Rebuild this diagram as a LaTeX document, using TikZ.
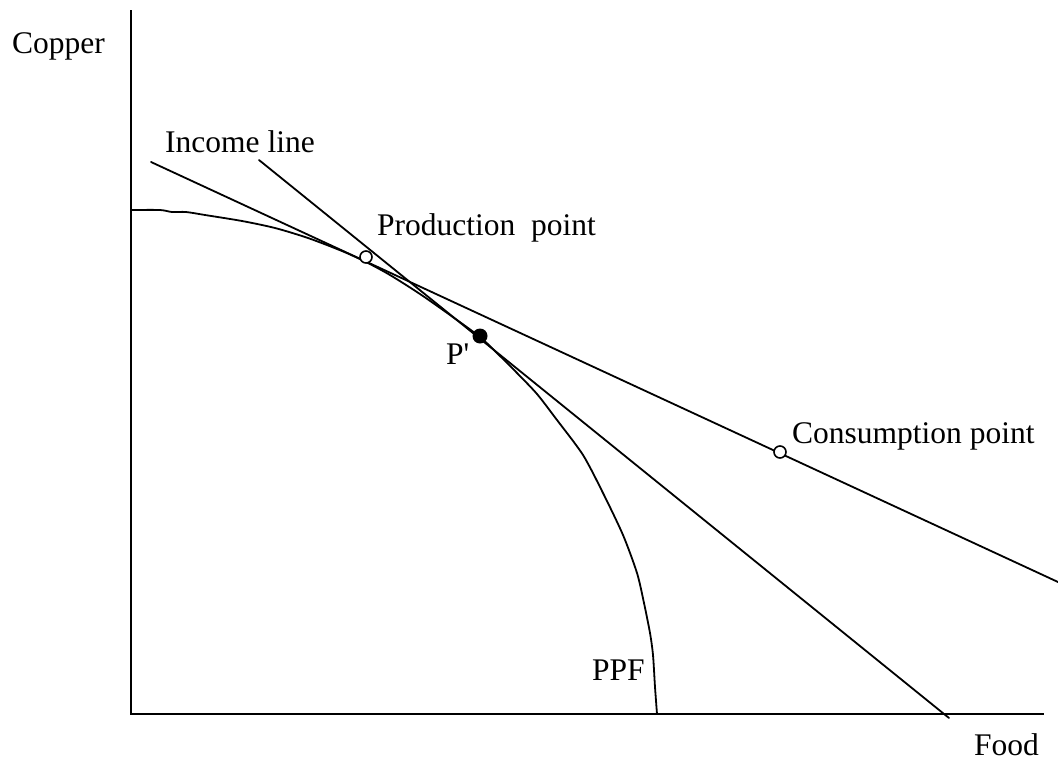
\documentclass[tikz,border=0pt]{standalone}
\usepackage{fontspec}
\setmainfont{Liberation Serif}
\begin{document}
\begin{tikzpicture}[x=1pt,y=-1pt,
  lbl/.style={anchor=base west,inner sep=0pt,font=\fontsize{31.5}{36}\selectfont},
  ln/.style={line width=1.8pt,line cap=round},
  opendot/.style={circle,draw,line width=1.6pt,fill=white,minimum size=12pt,inner sep=0pt},
  fulldot/.style={circle,fill=black,minimum size=15pt,inner sep=0pt}]
\useasboundingbox (0,0) rectangle (1058,763);
% axes
\coordinate (top) at (131,10);
\coordinate (origin) at (131,714);
\coordinate (right) at (1044,714);
\draw[ln,line cap=butt] (top) -- (origin) -- (right);
% income lines
\coordinate (fa) at (151,162);
\coordinate (fb) at (1058,582);
\draw[ln] (fa) -- (fb);
\coordinate (sa) at (259,160);
\coordinate (sb) at (949,718);
\draw[ln] (sa) -- (sb);
% PPF
\draw[ln,line join=round] plot[smooth,tension=0.45] coordinates {
  (131,210) (160,210) (172,212) (186,212) (205,215) (242,221) (275,228)
  (308,238) (342,251) (366,262) (390,275) (420,294) (450,315) (480,337)
  (500,356) (517,373) (537,394) (557,420) (583,455) (603,493) (623,535)
  (637,573) (644,603) (650,633) (653,655) (655,687) (657,714)};
% points
\node[opendot] (prod) at (366,257) {};
\node[opendot] (cons) at (780,452) {};
\node[fulldot] (pp) at (480,336) {};
% labels
\node[lbl] (copper) at (12,53) {Copper};
\node[lbl] (income) at (165,152) {Income line};
\node[lbl] (prodl) at (377,235) {Production\ \ point};
\node[lbl] (ppl) at (446,364) {P\textquotesingle};
\node[lbl] (consl) at (792,443) {Consumption point};
\node[lbl] (ppf) at (592,680) {PPF};
\node[lbl] (food) at (974,755) {Food};
\end{tikzpicture}
\end{document}
